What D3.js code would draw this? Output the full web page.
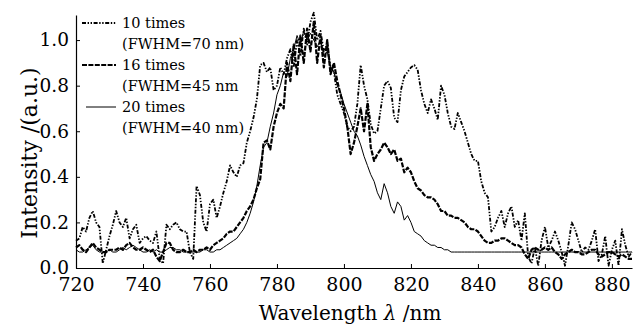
<!DOCTYPE html>
<html>
<head>
<meta charset="utf-8">
<script src="https://cdn.jsdelivr.net/npm/d3@7"></script>
<style>
  body { margin: 0; background: #fff; }
</style>
</head>
<body>
<div id="chart"></div>
<script>
///// Data (one sample per nm)

// wavelength grid, 720 ... 886 nm
let wavelengths = d3.range(720, 887, 1);

let times10 = [
  0.12, 0.13, 0.18, 0.16, 0.22, 0.25, 0.20, 0.18, 0.02, 0.08,
  0.14, 0.19, 0.25, 0.20, 0.18, 0.22, 0.13, 0.17, 0.19, 0.11,
  0.13, 0.14, 0.12, 0.11, 0.16, 0.04, 0.02, 0.19, 0.17, 0.19,
  0.20, 0.17, 0.16, 0.16, 0.07, 0.04, 0.36, 0.32, 0.20, 0.16,
  0.28, 0.30, 0.22, 0.27, 0.33, 0.38, 0.45, 0.42, 0.40, 0.45,
  0.46, 0.55, 0.60, 0.66, 0.74, 0.89, 0.90, 0.86, 0.88, 0.78,
  0.80, 0.88, 0.85, 0.92, 0.96, 0.88, 1.00, 0.93, 1.05, 0.98,
  1.08, 1.12, 1.00, 1.04, 0.95, 0.98, 0.88, 0.86, 0.76, 0.72,
  0.68, 0.62, 0.60, 0.62, 0.72, 0.89, 0.80, 0.74, 0.63, 0.59,
  0.60, 0.70, 0.80, 0.82, 0.79, 0.66, 0.64, 0.78, 0.84, 0.86,
  0.88, 0.89, 0.87, 0.78, 0.72, 0.68, 0.74, 0.70, 0.65, 0.80,
  0.76, 0.68, 0.62, 0.61, 0.68, 0.64, 0.60, 0.55, 0.50, 0.47,
  0.47, 0.38, 0.33, 0.31, 0.16, 0.18, 0.22, 0.25, 0.18, 0.24,
  0.27, 0.18, 0.21, 0.12, 0.24, 0.05, 0.02, 0.09, 0.01, 0.12,
  0.18, 0.09, 0.12, 0.16, 0.12, 0.07, 0.01, 0.10, 0.20, 0.17,
  0.12, 0.07, 0.09, 0.08, 0.12, 0.17, 0.03, 0.06, 0.14, 0.01,
  0.08, 0.12, 0.01, 0.17, 0.10, 0.05, 0.07
];

let times16 = [
  0.09, 0.10, 0.08, 0.07, 0.09, 0.11, 0.09, 0.08, 0.07, 0.07,
  0.08, 0.08, 0.08, 0.09, 0.08, 0.10, 0.11, 0.09, 0.08, 0.08,
  0.09, 0.08, 0.07, 0.08, 0.05, 0.03, 0.07, 0.11, 0.11, 0.08,
  0.07, 0.07, 0.08, 0.07, 0.07, 0.08, 0.07, 0.08, 0.08, 0.09,
  0.08, 0.10, 0.11, 0.12, 0.13, 0.15, 0.16, 0.16, 0.18, 0.20,
  0.22, 0.25, 0.27, 0.30, 0.35, 0.39, 0.55, 0.56, 0.52, 0.62,
  0.68, 0.72, 0.70, 0.90, 0.82, 0.98, 0.85, 1.02, 0.90, 1.05,
  0.95, 1.08, 0.90, 1.02, 0.88, 1.00, 0.85, 0.90, 0.82, 0.76,
  0.70, 0.62, 0.50, 0.55, 0.62, 0.70, 0.60, 0.72, 0.53, 0.47,
  0.50, 0.52, 0.55, 0.53, 0.50, 0.52, 0.47, 0.48, 0.42, 0.44,
  0.42, 0.38, 0.35, 0.34, 0.32, 0.31, 0.31, 0.30, 0.28, 0.25,
  0.25, 0.23, 0.23, 0.22, 0.22, 0.21, 0.20, 0.18, 0.17, 0.17,
  0.16, 0.14, 0.12, 0.11, 0.11, 0.12, 0.12, 0.13, 0.13, 0.12,
  0.11, 0.10, 0.10, 0.09, 0.06, 0.04, 0.08, 0.09, 0.08, 0.08,
  0.09, 0.08, 0.09, 0.07, 0.06, 0.04, 0.06, 0.07, 0.08, 0.07,
  0.07, 0.06, 0.06, 0.07, 0.08, 0.08, 0.06, 0.05, 0.06, 0.07,
  0.07, 0.06, 0.05, 0.06, 0.05, 0.04, 0.04
];

let times20 = [
  0.08, 0.07, 0.07, 0.08, 0.09, 0.10, 0.08, 0.07, 0.07, 0.07,
  0.08, 0.07, 0.07, 0.08, 0.09, 0.08, 0.09, 0.10, 0.09, 0.08,
  0.07, 0.07, 0.08, 0.07, 0.08, 0.07, 0.07, 0.08, 0.09, 0.09,
  0.08, 0.08, 0.07, 0.07, 0.07, 0.07, 0.07, 0.07, 0.08, 0.08,
  0.07, 0.07, 0.08, 0.08, 0.09, 0.10, 0.11, 0.12, 0.13, 0.15,
  0.17, 0.20, 0.24, 0.29, 0.36, 0.45, 0.53, 0.55, 0.62, 0.68,
  0.76, 0.80, 0.86, 0.84, 0.92, 0.96, 1.02, 0.98, 1.04, 1.00,
  1.03, 1.00, 0.97, 1.00, 0.93, 0.95, 0.88, 0.86, 0.80, 0.77,
  0.72, 0.68, 0.64, 0.60, 0.58, 0.54, 0.49, 0.45, 0.41, 0.38,
  0.33, 0.30, 0.37, 0.33, 0.27, 0.24, 0.29, 0.27, 0.21, 0.23,
  0.20, 0.16, 0.15, 0.14, 0.12, 0.11, 0.10, 0.10, 0.09, 0.09,
  0.08, 0.08, 0.07, 0.07, 0.07, 0.07, 0.07, 0.07, 0.07, 0.07,
  0.07, 0.07, 0.07, 0.07, 0.07, 0.07, 0.07, 0.07, 0.07, 0.07,
  0.07, 0.07, 0.07, 0.07, 0.07, 0.07, 0.07, 0.07, 0.07, 0.07,
  0.07, 0.07, 0.07, 0.07, 0.07, 0.07, 0.07, 0.07, 0.07, 0.07,
  0.07, 0.07, 0.07, 0.07, 0.07, 0.07, 0.07, 0.07, 0.07, 0.07,
  0.07, 0.07, 0.07, 0.07, 0.07, 0.07, 0.07
];

let xTicks = [720, 740, 760, 780, 800, 820, 840, 860, 880];
let yTicks = [0.0, 0.2, 0.4, 0.6, 0.8, 1.0];

let legendLabels = [
  ["10 times", "(FWHM=70 nm)"],
  ["16 times", "(FWHM=45 nm"],
  ["20 times", "(FWHM=40 nm)"]
];

///// Layout

let width = 643, height = 327;
let plot = { left: 76, right: 632, top: 15, bottom: 268 };
let serif = "DejaVu Serif";

let x = d3.scaleLinear().domain([720, 886]).range([plot.left, plot.right]);
let y = d3.scaleLinear().domain([0, 1.11]).range([plot.bottom, plot.top]);

let svg = d3.select("#chart")
    .append("svg")
    .attr("width", width)
    .attr("height", height)
    .attr("font-family", serif);

// line styles for the three series
let styles = [
  { width: 1.8, dash: "4,1.6,1.4,1.6,1.4,1.6" },
  { width: 2.2, dash: "5,1.4" },
  { width: 1.0, dash: null }
];
let series = [times10, times16, times20];

let valueline = function(values) {
    return d3.line()
        .x(function(d, i) { return x(wavelengths[i]); })
        .y(function(d) { return y(d); })(values);
};

// draw the spectra, thin one on top
[0, 1, 2].forEach(function(k) {
    svg.append("path")
        .attr("d", valueline(series[k]))
        .attr("fill", "none")
        .attr("stroke", "#000")
        .attr("stroke-width", styles[k].width)
        .attr("stroke-dasharray", styles[k].dash)
        .attr("stroke-linejoin", "round");
});

// X axis
let xAxis = svg.append("g")
    .attr("transform", "translate(0," + plot.bottom + ")")
    .call(d3.axisBottom(x).tickValues(xTicks).tickSize(-4).tickPadding(9).tickSizeOuter(0)
        .tickFormat(d3.format("d")));
xAxis.attr("font-family", serif);
xAxis.select(".domain").attr("stroke-width", 1.2);
xAxis.selectAll("text").attr("font-size", 19).attr("dy", "0.75em");

// Y axis
let yAxis = svg.append("g")
    .attr("transform", "translate(" + plot.left + ",0)")
    .call(d3.axisLeft(y).tickValues(yTicks).tickSize(-4).tickPadding(7).tickSizeOuter(0)
        .tickFormat(d3.format(".1f")));
yAxis.attr("font-family", serif);
yAxis.select(".domain").attr("stroke-width", 1.2);
yAxis.selectAll("text").attr("font-size", 18.5);

svg.selectAll(".tick line").attr("stroke-width", 1);

// axis titles
let xTitle = svg.append("text")
    .attr("x", 350)
    .attr("y", 320)
    .attr("text-anchor", "middle")
    .attr("font-size", 20);
xTitle.append("tspan").text("Wavelength ");
xTitle.append("tspan").attr("font-style", "italic").text("λ");
xTitle.append("tspan").text(" /nm");

svg.append("text")
    .attr("transform", "translate(37,153) rotate(-90)")
    .attr("text-anchor", "middle")
    .attr("font-size", 22)
    .text("Intensity /(a.u.)");

// legend
let legendY = [23, 65, 107];
legendLabels.forEach(function(lab, k) {
    svg.append("line")
        .attr("x1", k === 2 ? 86 : 82).attr("x2", 116)
        .attr("y1", legendY[k]).attr("y2", legendY[k])
        .attr("stroke", "#000")
        .attr("stroke-width", styles[k].width)
        .attr("stroke-dasharray", styles[k].dash);
    svg.append("text")
        .attr("x", 122).attr("y", legendY[k] + 5)
        .attr("font-size", 14.5)
        .text(lab[0]);
    svg.append("text")
        .attr("x", 122).attr("y", legendY[k] + 26)
        .attr("font-size", 14.5)
        .text(lab[1]);
});
</script>
</body>
</html>
